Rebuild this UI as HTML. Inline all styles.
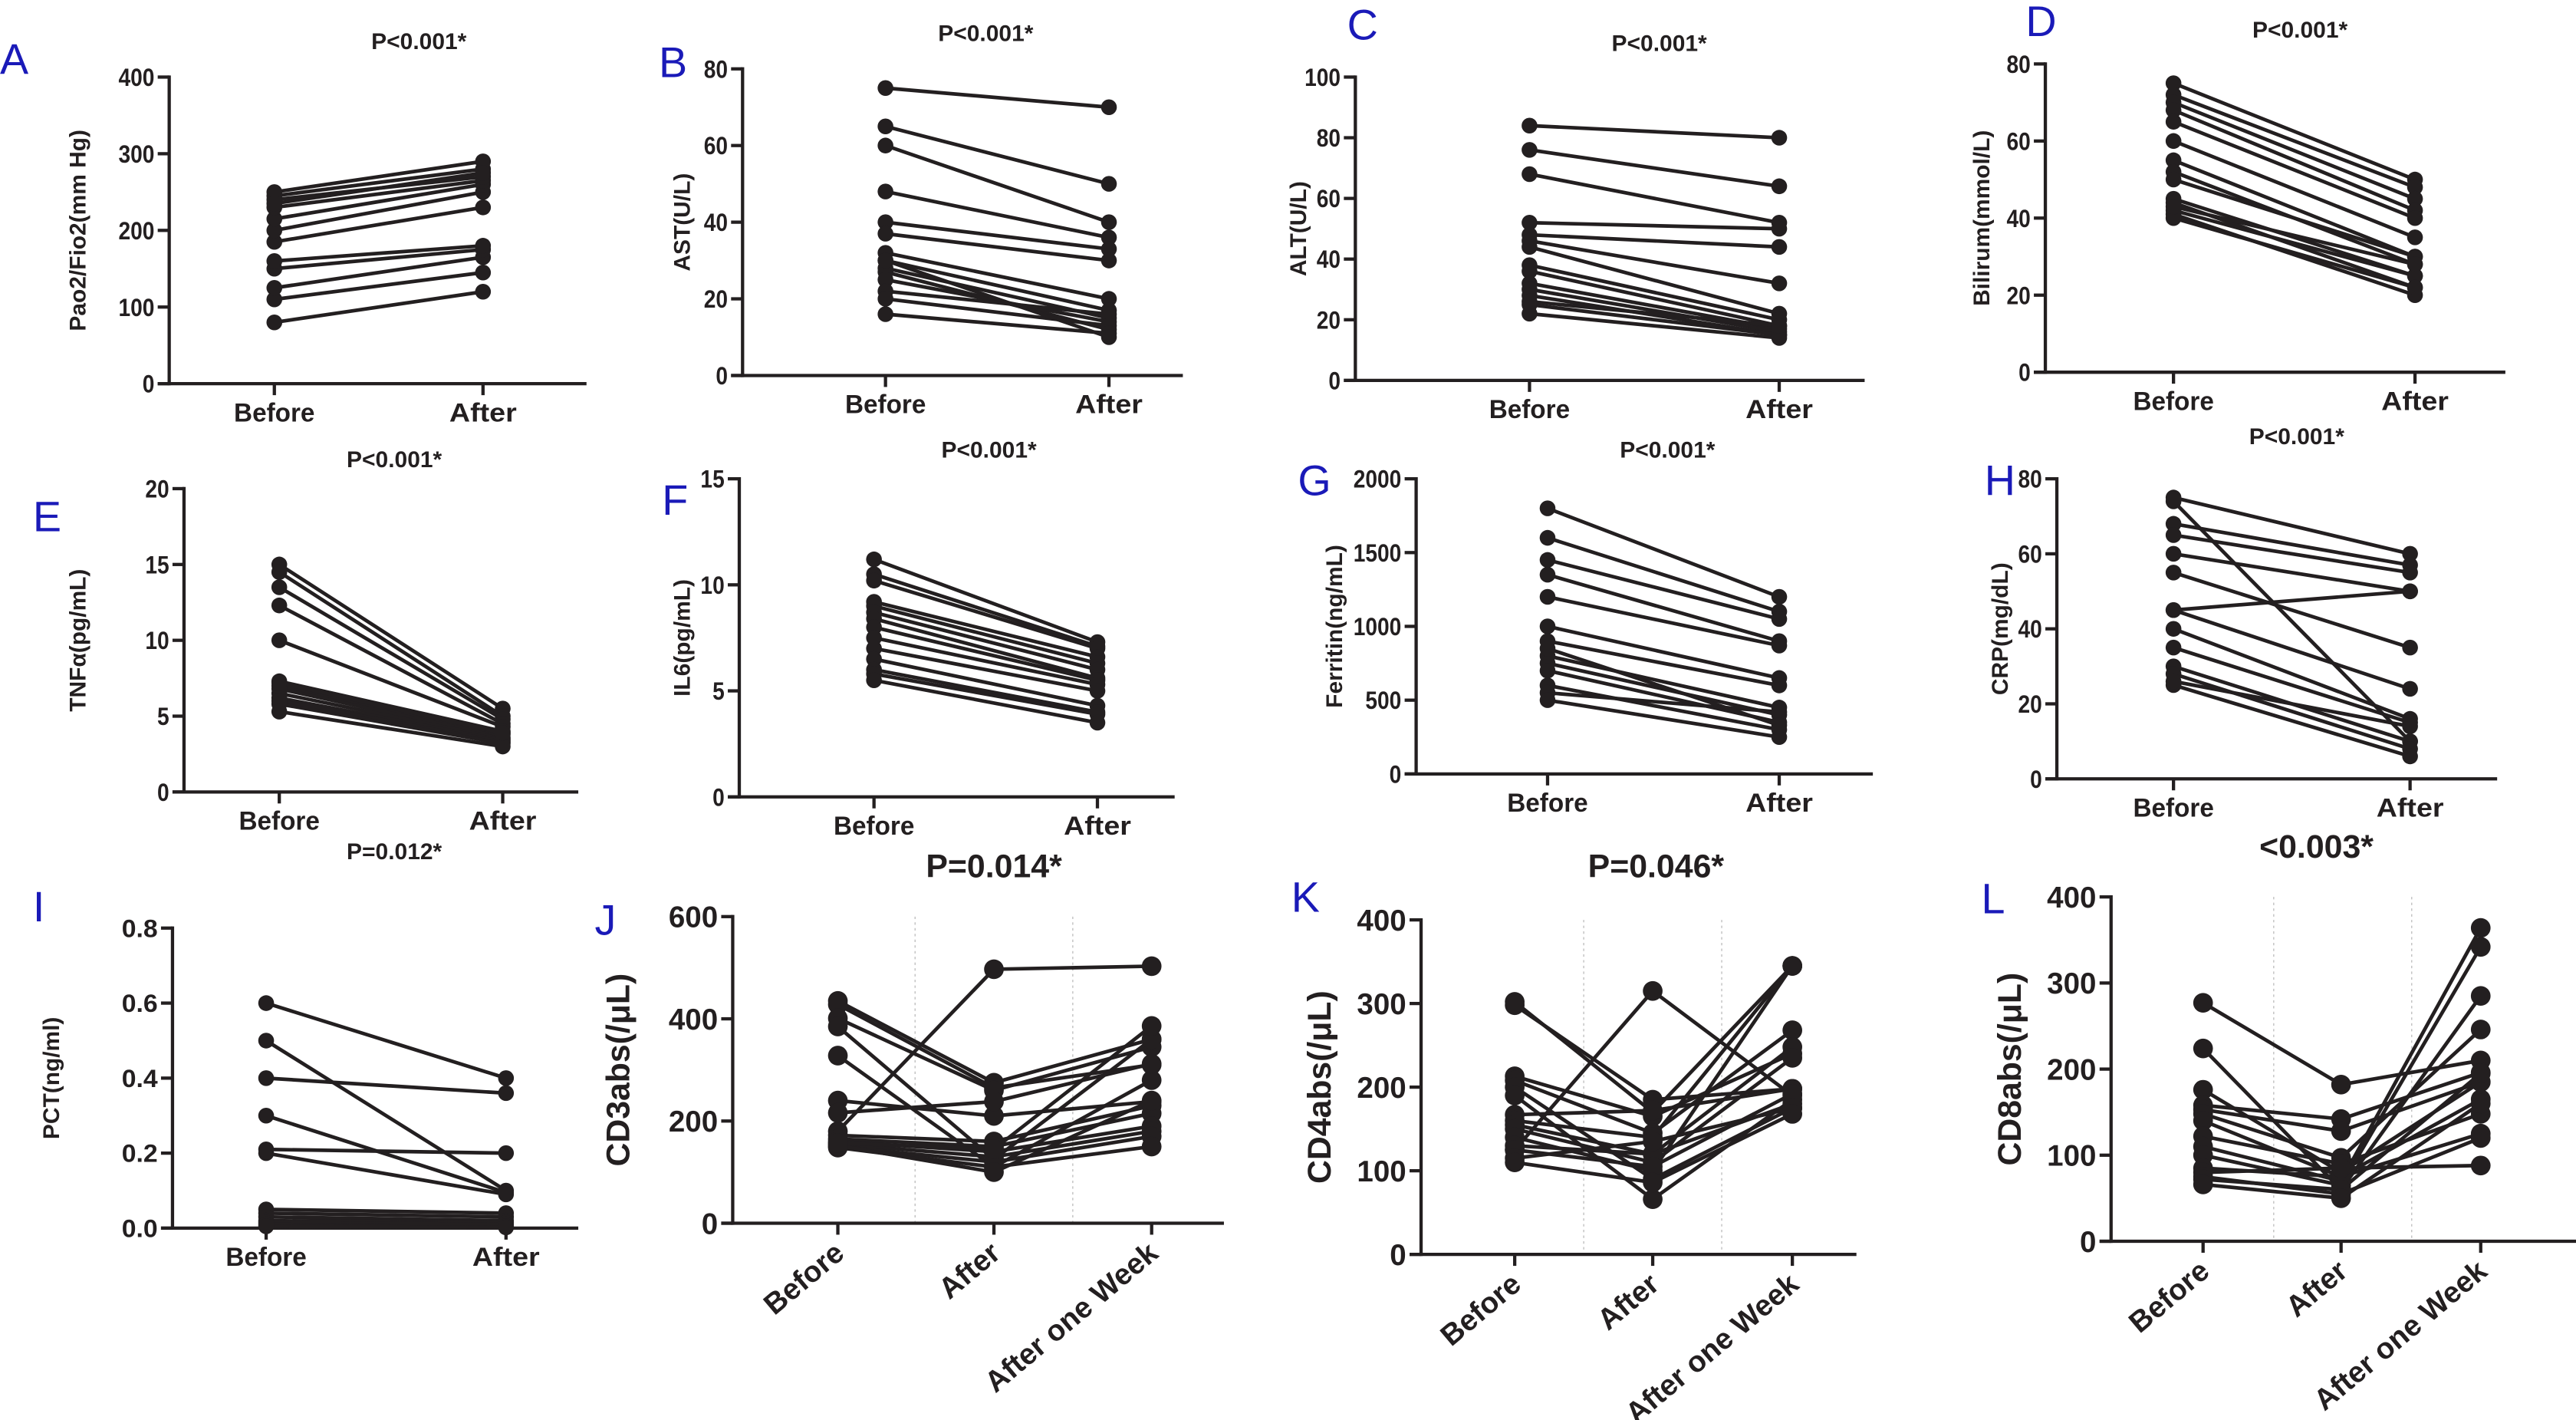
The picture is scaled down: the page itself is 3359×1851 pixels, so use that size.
<!DOCTYPE html>
<html><head><meta charset="utf-8"><title>Before/After panels</title>
<style>
html,body{margin:0;padding:0;background:#fff;}
svg{display:block;}
text{font-family:"Liberation Sans",sans-serif;fill:#231f20;}
</style></head>
<body>
<svg id="fig" width="3359" height="1851" viewBox="0 0 1568 866" preserveAspectRatio="none" xmlns="http://www.w3.org/2000/svg"></svg>
<script>
// ---- data ----
const catsTwo = ["Before","After"];
const catsThree = ["Before","After","After one Week"];
const aBefore = [80,110,125,150,160,185,200,215,230,240,245,250,235];
const aAfter  = [120,145,165,175,180,230,250,260,265,270,280,290,275];
const bBefore = [75,65,60,48,40,37,32,30,28,27,25,22,20,16,30];
const bAfter  = [70,50,40,36,33,30,20,17,15,12,14,16,13,11,10];
const cBefore = [84,76,68,52,48,46,44,38,36,32,30,28,25,22,26];
const cAfter  = [80,64,52,50,44,32,22,20,18,17,16,15,15,14,18];
const dBefore = [75,72,70,68,65,60,55,52,50,45,44,42,41,40,43];
const dAfter  = [50,48,45,42,40,35,30,28,30,25,22,25,20,22,28];
const eBefore = [15,14.5,13.5,12.3,10,7.3,7,6.8,6.5,6.2,6,5.8,5.3,7.2];
const eAfter  = [5.5,5,4.8,4.5,4.3,4,3.8,3.6,3.5,3.4,3.3,3.2,3.0,3.9];
const fBefore = [11.2,10.5,10.2,9.2,9,8.7,8.4,8,7.5,7,6.5,6,5.8,5.5];
const fAfter  = [7.3,7.1,7.0,6.6,6.3,6,5.6,5.5,5.3,5,4.3,4,3.9,3.5];
const gBefore = [1800,1600,1450,1350,1200,1000,900,800,750,700,600,550,500,850];
const gAfter  = [1200,1100,1050,900,870,650,600,450,400,350,300,420,250,330];
const hBefore = [75,74,68,65,60,55,45,45,40,35,30,28,25,26];
const hAfter  = [60,10,57,55,50,35,50,24,16,15,10,8,6,14];
const iBefore = [0.6,0.5,0.4,0.3,0.21,0.2,0.05,0.04,0.03,0.02,0.015,0.01,0.005];
const iAfter  = [0.4,0.1,0.36,0.095,0.2,0.09,0.04,0.03,0.02,0.015,0.01,0.005,0.002];
const jBefore = [180,435,428,401,385,328,240,216,172,165,160,155,150,148,152,157];
const jAfter  = [497,275,265,260,125,110,210,238,160,150,140,130,120,110,100,145];
const jWeek   = [503,360,310,345,360,280,238,312,230,215,190,180,170,150,240,386];
const kBefore = [302,298,125,213,208,200,190,167,160,155,150,140,130,125,115,110];
const kAfter  = [170,185,315,165,145,90,66,172,140,120,110,100,120,105,135,86];
const kWeek   = [345,198,190,240,268,175,185,198,345,248,235,345,180,192,175,168];
const lBefore = [277,224,176,158,153,148,140,122,110,100,85,80,75,72,66];
const lAfter  = [182,60,80,142,128,97,75,90,70,65,75,85,55,60,50];
const lWeek   = [210,285,185,196,185,246,165,148,364,342,125,88,120,195,160];
const aTicks=[0,100,200,300,400], bTicks=[0,20,40,60,80], cTicks=[0,20,40,60,80,100], dTicks=[0,20,40,60,80];
const eTicks=[0,5,10,15,20], fTicks=[0,5,10,15], gTicks=[0,500,1000,1500,2000], hTicks=[0,20,40,60,80];
const iTicks=[0,0.2,0.4,0.6,0.8], jTicks=[0,200,400,600], kTicks=[0,100,200,300,400], lTicks=[0,100,200,300,400];

const NS="http://www.w3.org/2000/svg";
const svg=document.getElementById('fig');
function mk(tag,attrs,parent){const e=document.createElementNS(NS,tag);for(const k in attrs)e.setAttribute(k,attrs[k]);(parent||svg).appendChild(e);return e;}

function panel(p){
  const g=mk('g',{});
  
  
  const maxT=p.ticks[p.ticks.length-1];
  const Y=v=>p.y0-(v/maxT)*(p.y0-p.yTop);
  const big=p.series.length===3;
  const fs=big?18:15;
  const L=mk('text',{x:p.lx,y:p.ly,'font-size':26,style:'fill:#1a1ab8'},g);L.textContent=p.id;
  
  
  const T=mk('text',{x:p.tx,y:p.ty,'font-size':big?20:14,'font-weight':'bold','text-anchor':'middle'},g);T.textContent=p.title;
  
  
  const yc=(p.y0+p.yTop)/2;
  const YT=mk('text',{x:p.ytx,y:yc,'font-size':big?20:14,'font-weight':'bold','text-anchor':'middle',transform:`rotate(-90 ${p.ytx} ${yc})`},g);YT.textContent=p.ytitle;
  
  
  (p.grids||[]).forEach(gx=>{
    const gl=mk('line',{x1:gx,x2:gx,y1:p.yTop,y2:p.y0,stroke:'#bbb','stroke-width':0.6,'stroke-dasharray':'1.5 2'},g);
    
    
  });
  const ya=mk('line',{x1:p.ax,x2:p.ax,y1:p.yTop-1,y2:p.y0+1,stroke:'#231f20','stroke-width':2},g);
  
  
  const xa=mk('line',{x1:p.ax-7,x2:p.xEnd,y1:p.y0,y2:p.y0,stroke:'#231f20','stroke-width':2},g);
  
  
  p.ticks.forEach(t=>{
    const y=Y(t);
    mk('line',{x1:p.ax-7,x2:p.ax,y1:y,y2:y,stroke:'#231f20','stroke-width':2},g);
    const s=p.fmt?p.fmt(t):String(t);
    const at={x:p.ax-9,y:y+fs*0.36,'font-size':fs,'font-weight':'bold','text-anchor':'end'};
    if(!big){at.textLength=s.length*7.3;at.lengthAdjust='spacingAndGlyphs';}
    const tl=mk('text',at,g);
    tl.textContent=s;
    
    
  });
  p.cats.forEach((c,i)=>{
    const x=p.cols[i];
    mk('line',{x1:x,x2:x,y1:p.y0,y2:p.y0+7,stroke:'#231f20','stroke-width':2},g);
    let t;
    if(big){
      const tx=x+5,ty=p.y0+20;
      t=mk('text',{x:tx,y:ty,'font-size':18,'font-weight':'bold','text-anchor':'end',transform:`rotate(-40 ${tx} ${ty})`},g);
    } else {
      t=mk('text',{x:x,y:p.y0+23,'font-size':16,'font-weight':'bold','text-anchor':'middle',textLength:c.length*8.2,lengthAdjust:'spacingAndGlyphs'},g);
    }
    t.textContent=c;
    
    
  });
  const n=p.series[0].length;
  for(let k=0;k<n;k++){
    const pts=p.series.map((s,i)=>[p.cols[i],Y(s[k])]);
    const pl=mk('polyline',{points:pts.map(q=>q.join(',')).join(' '),fill:'none',stroke:'#231f20','stroke-width':2.2},g);
    
    
    pts.forEach(q=>{
      const c=mk('circle',{cx:q[0],cy:q[1],r:big?6:4.8,fill:'#231f20'},g);
      
      
    });
  }
}

panel({id:'A',title:'P<0.001*',ytitle:'Pao2/Fio2(mm Hg)',ticks:aTicks,cats:catsTwo,series:[aBefore,aAfter],ax:103,y0:234,yTop:47,cols:[167,294],xEnd:357,tx:255,ty:30,ytx:52,lx:0,ly:45});
panel({id:'B',title:'P<0.001*',ytitle:'AST(U/L)',ticks:bTicks,cats:catsTwo,series:[bBefore,bAfter],ax:452,y0:229,yTop:42,cols:[539,675],xEnd:720,tx:600,ty:25,ytx:420,lx:401,ly:47});
panel({id:'C',title:'P<0.001*',ytitle:'ALT(U/L)',ticks:cTicks,cats:catsTwo,series:[cBefore,cAfter],ax:825,y0:232,yTop:47,cols:[931,1083],xEnd:1135,tx:1010,ty:31,ytx:795,lx:820,ly:24});
panel({id:'D',title:'P<0.001*',ytitle:'Bilirum(mmol/L)',ticks:dTicks,cats:catsTwo,series:[dBefore,dAfter],ax:1245,y0:227,yTop:39,cols:[1323,1470],xEnd:1525,tx:1400,ty:23,ytx:1211,lx:1233,ly:22});
panel({id:'E',title:'P<0.001*',ytitle:'TNFα(pg/mL)',ticks:eTicks,cats:catsTwo,series:[eBefore,eAfter],ax:112,y0:483,yTop:298,cols:[170,306],xEnd:352,tx:240,ty:285,ytx:52,lx:20,ly:324});
panel({id:'F',title:'P<0.001*',ytitle:'IL6(pg/mL)',ticks:fTicks,cats:catsTwo,series:[fBefore,fAfter],ax:450,y0:486,yTop:292,cols:[532,668],xEnd:715,tx:602,ty:279,ytx:420,lx:403,ly:314});
panel({id:'G',title:'P<0.001*',ytitle:'Ferritin(ng/mL)',ticks:gTicks,cats:catsTwo,series:[gBefore,gAfter],ax:862,y0:472,yTop:292,cols:[942,1083],xEnd:1140,tx:1015,ty:279,ytx:817,lx:790,ly:302});
panel({id:'H',title:'P<0.001*',ytitle:'CRP(mg/dL)',ticks:hTicks,cats:catsTwo,series:[hBefore,hAfter],ax:1252,y0:475,yTop:292,cols:[1323,1467],xEnd:1520,tx:1398,ty:271,ytx:1222,lx:1208,ly:302});
panel({id:'I',title:'P=0.012*',ytitle:'PCT(ng/ml)',ticks:iTicks,cats:catsTwo,series:[iBefore,iAfter],ax:105,y0:749,yTop:566,cols:[162,308],xEnd:352,tx:240,ty:524,ytx:36,lx:20,ly:562,fmt:v=>v.toFixed(1)});
panel({id:'J',title:'P=0.014*',ytitle:'CD3abs(/μL)',ticks:jTicks,cats:catsThree,series:[jBefore,jAfter,jWeek],ax:446,y0:746,yTop:559,cols:[510,605,701],grids:[557,653],xEnd:745,tx:605,ty:535,ytx:383,lx:362,ly:570});
panel({id:'K',title:'P=0.046*',ytitle:'CD4abs(/μL)',ticks:kTicks,cats:catsThree,series:[kBefore,kAfter,kWeek],ax:865,y0:765,yTop:561,cols:[922,1006,1091],grids:[964,1048],xEnd:1130,tx:1008,ty:535,ytx:810,lx:786,ly:556});
panel({id:'L',title:'<0.003*',ytitle:'CD8abs(/μL)',ticks:lTicks,cats:catsThree,series:[lBefore,lAfter,lWeek],ax:1285,y0:757,yTop:547,cols:[1341,1425,1510],grids:[1384,1468],xEnd:1568,tx:1410,ty:523,ytx:1230,lx:1206,ly:557});
</script>
</body></html>
